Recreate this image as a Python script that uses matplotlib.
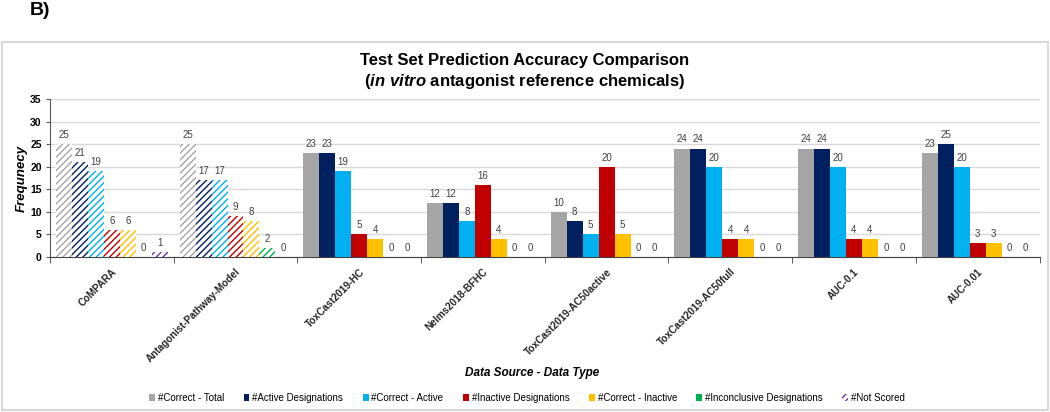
import matplotlib
matplotlib.use('Agg')
import matplotlib.pyplot as plt
from matplotlib.patches import Patch, Rectangle
import numpy as np

# Fonts (Arial-like)
plt.rcParams['font.family'] = 'Liberation Sans'
plt.rcParams['mathtext.fontset'] = 'custom'
plt.rcParams['mathtext.it'] = 'Liberation Sans:italic:bold'
plt.rcParams['mathtext.rm'] = 'Liberation Sans:bold'
plt.rcParams['hatch.linewidth'] = 1.0

# Data
sources = ['CoMPARA', 'Antagonist-Pathway-Model', 'ToxCast2019-HC', 'Nelms2018-BFHC',
           'ToxCast2019-AC50active', 'ToxCast2019-AC50full', 'AUC-0.1', 'AUC-0.01']
hatched_sources = ['CoMPARA', 'Antagonist-Pathway-Model']

series_names = ['#Correct - Total', '#Active Designations', '#Correct - Active',
                '#Inactive Designations', '#Correct - Inactive',
                '#Inconclusive Designations', '#Not Scored']
series_colours = ['#A5A5A5', '#002060', '#00B0F0', '#C00000', '#FFC000', '#00B050', '#7030A0']

correct_total = [25, 25, 23, 12, 10, 24, 24, 23]
active_designations = [21, 17, 23, 12, 8, 24, 24, 25]
correct_active = [19, 17, 19, 8, 5, 20, 20, 20]
inactive_designations = [6, 9, 5, 16, 20, 4, 4, 3]
correct_inactive = [6, 8, 4, 4, 5, 4, 4, 3]
inconclusive_designations = [0, 2, 0, 0, 0, 0, 0, 0]
not_scored = [1, 0, 0, 0, 0, 0, 0, 0]

series_values = [correct_total, active_designations, correct_active, inactive_designations,
                 correct_inactive, inconclusive_designations, not_scored]


def generate_bar_chart():
    fig = plt.figure(figsize=(10.5, 4.12), dpi=100)
    ax = fig.add_axes([0.0476, 0.3762, 0.9424, 0.3835])

    x = np.arange(len(sources))
    width = 0.129
    text_colour = '#404040'

    for j, (name, colour, values) in enumerate(zip(series_names, series_colours, series_values)):
        offset = (j - 3) * width
        for i, src in enumerate(sources):
            if src in hatched_sources:
                ax.bar(x[i] + offset, values[i], width, facecolor='white',
                       edgecolor=colour, hatch='/////', linewidth=0, zorder=3)
            else:
                ax.bar(x[i] + offset, values[i], width, color=colour, linewidth=0, zorder=3)
            ax.annotate(str(values[i]), (x[i] + offset, values[i]), xytext=(0, 3),
                        textcoords='offset points', ha='center', va='bottom',
                        fontsize=7, color=text_colour)

    # Axes styling
    ax.set_xlim(-0.5, len(sources) - 0.5)
    ax.set_ylim(0, 35)
    ax.set_yticks(range(0, 36, 5))
    ax.yaxis.grid(True, color='#D9D9D9', linewidth=1, zorder=0)
    ax.set_axisbelow(True)
    for side in ['top', 'right']:
        ax.spines[side].set_visible(False)
    ax.spines['left'].set_color('#595959')
    ax.spines['bottom'].set_color('#404040')

    ax.set_xticks(x)
    ax.set_xticklabels(sources, rotation=45, ha='right', va='top', rotation_mode='anchor',
                       fontsize=7.2, fontweight='bold', color='#262626')
    ax.set_xticks(np.arange(-0.5, len(sources), 1), minor=True)
    ax.tick_params(axis='x', which='major', length=0, pad=7)
    ax.tick_params(axis='x', which='minor', length=4, color='#404040')
    ax.tick_params(axis='y', length=3, color='#595959', pad=3, labelsize=7.5)
    for lbl in ax.get_yticklabels():
        lbl.set_fontweight('bold')

    ax.set_ylabel('Frequnecy', fontsize=9.5, fontweight='bold', fontstyle='italic')
    ax.yaxis.set_label_coords(-0.022, 0.5)

    # Titles and labels
    fig.text(0.5, 0.854, 'Test Set Prediction Accuracy Comparison',
             ha='center', va='center', fontsize=12, fontweight='bold')
    fig.text(0.5, 0.801, r'($\mathit{in\ vitro}$ antagonist reference chemicals)',
             ha='center', va='center', fontsize=12, fontweight='bold')
    fig.text(0.507, 0.0947, 'Data Source - Data Type', ha='center', va='center',
             fontsize=8.5, fontweight='bold', fontstyle='italic')
    fig.text(0.028, 0.995, 'B)', ha='left', va='top', fontsize=14, fontweight='bold')

    # Legend
    handles = []
    for name, colour in zip(series_names, series_colours):
        if name == '#Not Scored':
            handles.append(Patch(facecolor='white', edgecolor=colour, hatch='/////',
                                 linewidth=0, label=name))
        else:
            handles.append(Patch(facecolor=colour, linewidth=0, label=name))
    fig.legend(handles=handles, loc='center', bbox_to_anchor=(0.502, 0.034), ncol=7,
               frameon=False, fontsize=7, handlelength=0.6, handleheight=0.6,
               handletextpad=0.3, columnspacing=2.0)

    # Outer border
    fig.add_artist(Rectangle((0.002, 0.005), 0.996, 0.893, transform=fig.transFigure,
                             fill=False, edgecolor='#D9D9D9', linewidth=1.5))

    plt.savefig('out.png', dpi=100)
    plt.close()


if __name__ == "__main__":
    generate_bar_chart()
